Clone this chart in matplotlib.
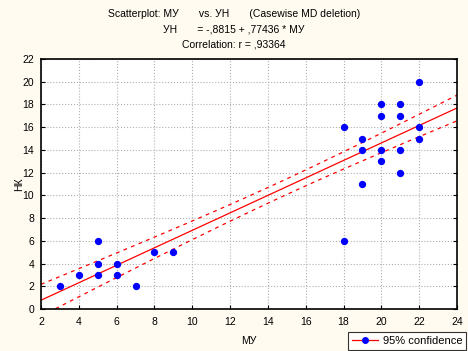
import numpy as np
import matplotlib.pyplot as plt
from matplotlib.lines import Line2D

mu = [3, 4, 5, 5, 5, 6, 6, 7, 8, 9,
      18, 18, 19, 19, 19, 20, 20, 20, 20, 21, 21, 21, 21, 22, 22, 22]
nk = [2, 3, 3, 4, 6, 3, 4, 2, 5, 5,
      16, 6, 15, 14, 11, 18, 17, 14, 13, 18, 17, 14, 12, 20, 16, 15]

x = np.array(mu, dtype=float)
y = np.array(nk, dtype=float)

plt.rcParams['font.family'] = ['Liberation Sans', 'DejaVu Sans']
plt.rcParams['font.size'] = 7.5

fig = plt.figure(figsize=(4.68, 3.51), dpi=100, facecolor='#fffbf0')
ax = fig.add_axes([0.0876, 0.1197, 0.8889, 0.7123])
ax.set_facecolor('white')

# regression line + confidence band
n = len(x)
b, a = np.polyfit(x, y, 1)
resid = y - (a + b * x)
s = np.sqrt(np.sum(resid ** 2) / (n - 2))
xm = x.mean()
sxx = np.sum((x - xm) ** 2)
t = 1.42  # band width as seen on the original
xx = np.linspace(2, 24, 200)
yy = a + b * xx
se = s * np.sqrt(1.0 / n + (xx - xm) ** 2 / sxx)

ax.plot(xx, yy, color='red', lw=0.9)
ax.plot(xx, yy + t * se, color='red', lw=0.9, ls=(0, (3, 3.5)))
ax.plot(xx, yy - t * se, color='red', lw=0.9, ls=(0, (3, 3.5)))
ax.scatter(x, y, s=18, color='#0000ff', zorder=3)

ax.set_xlim(2, 24)
ax.set_ylim(0, 22)
ax.set_xticks(np.arange(2, 25, 2))
ax.set_yticks(np.arange(0, 23, 2))
ax.grid(True, color='#b0b0b0', ls=':', lw=0.8)
ax.tick_params(direction='in', length=3, right=True, top=False)
ax.tick_params(axis='x', pad=6)
ax.tick_params(axis='y', pad=5)
for sp in ax.spines.values():
    sp.set_linewidth(1.2)

ax.set_xlabel('МУ', labelpad=6)
ax.set_ylabel('НК', labelpad=-1)

fig.text(0.5, 0.96, 'Scatterplot: МУ       vs. УН       (Casewise MD deletion)', ha='center', va='center')
fig.text(0.5, 0.915, 'УН       = -,8815 + ,77436 * МУ', ha='center', va='center')
fig.text(0.5, 0.872, 'Correlation: r = ,93364', ha='center', va='center')

h = Line2D([], [], color='red', lw=0.9, marker='o', markersize=4,
           markerfacecolor='#0000ff', markeredgecolor='#0000ff')
leg = fig.legend([h], ['95% confidence'], loc='lower right',
                 bbox_to_anchor=(0.996, 0.003), frameon=True, fancybox=False,
                 borderpad=0.35, handlelength=2.4, handletextpad=0.4,
                 borderaxespad=0.0, fontsize=8)
leg.get_frame().set_edgecolor('black')
leg.get_frame().set_linewidth(0.8)

fig.savefig('out.png', dpi=100, facecolor=fig.get_facecolor())
